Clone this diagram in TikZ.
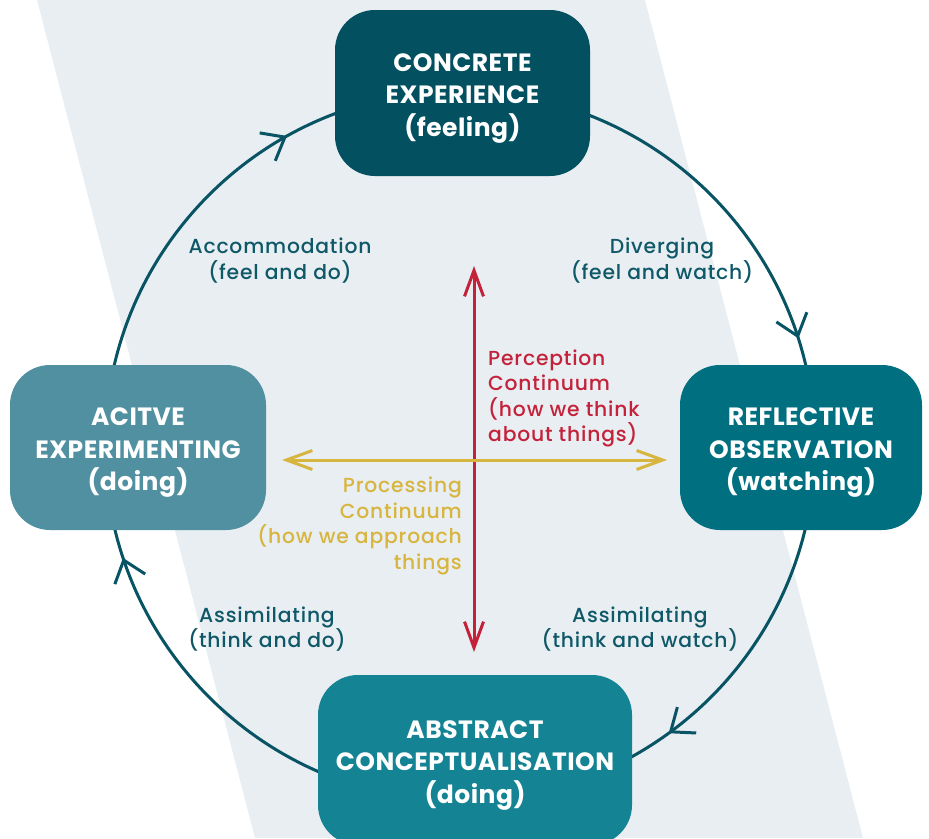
\documentclass[tikz,border=0pt]{standalone}
\usepackage{fontspec}
\setmainfont{Poppins}
\newfontfamily\stagefont{Poppins}[LetterSpace=2]
\newfontfamily\labelfont{Poppins Medium}[LetterSpace=4]
\usepackage{tikz}
\usetikzlibrary{arrows.meta,decorations.markings}
\usepackage{xcolor}
\definecolor{bgPanel}{RGB}{232,238,241}
\definecolor{cycleCol}{RGB}{8,84,100}
\definecolor{stageA}{RGB}{3,80,96}
\definecolor{stageB}{RGB}{0,112,128}
\definecolor{stageC}{RGB}{20,132,148}
\definecolor{stageD}{RGB}{80,144,160}
\definecolor{styleText}{RGB}{14,88,104}
\definecolor{percCol}{RGB}{196,33,58}
\definecolor{procCol}{RGB}{216,181,63}

\begin{document}
\begin{tikzpicture}[
  x=1pt, y=-1pt,
  stagebox/.style n args={3}{rounded corners=40pt, fill=#1, minimum width=#2, minimum height=#3,
    text=white, align=center, inner sep=0pt, font=\stagefont\fontsize{25}{32.5}\selectfont\bfseries,
    text height=86.5pt, text depth=0pt},
  stylelabel/.style={text=styleText, align=center, font=\labelfont\fontsize{20.3}{25.5}\selectfont},
  axislabel/.style={align=#1, inner sep=0pt, font=\labelfont\fontsize{20.3}{25.5}\selectfont},
  cyclebarb/.tip={Straight Barb[length=20pt, width=32pt]},
  axisbarb/.tip={Straight Barb[length=26pt, width=19pt]},
  axisline/.style={line width=3pt, color=#1, axisbarb-axisbarb},
  cycleline/.style={line width=3pt, color=cycleCol, postaction={decorate},
    decoration={markings,
      mark=at position 0.150 with {\arrow{cyclebarb}},
      mark=at position 0.449 with {\arrow{cyclebarb}},
      mark=at position 0.669 with {\arrow{cyclebarb}},
      mark=at position 0.951 with {\arrow{cyclebarb}}}},
]
\useasboundingbox (0,0) rectangle (929,838);
% slanted panel behind the cycle
\fill[bgPanel] (37,0) -- (645,0) -- (863,838) -- (255,838) -- cycle;
% learning cycle
\coordinate (cyc) at (460,446);
\draw[cycleline] (cyc) ellipse [x radius=355, y radius=355];
% the four stages
\node[stagebox={stageA}{255pt}{166pt}] (concrete) at (462.5,93) {CONCRETE\\EXPERIENCE\\(feeling)};
\node[stagebox={stageB}{242pt}{165pt}] (reflective) at (801,447.5) {REFLECTIVE\\OBSERVATION\\(watching)};
\node[stagebox={stageC}{314pt}{170pt}] (abstract) at (475,760) {ABSTRACT\\CONCEPTUALISATION\\(doing)};
\node[stagebox={stageD}{256pt}{165pt}] (active) at (138,447.5) {ACITVE\\EXPERIMENTING\\(doing)};
% learning styles
\node[stylelabel] (accom) at (280,260.5) {Accommodation\\(feel and do)};
\node[stylelabel] (diverg) at (662,260.5) {Diverging\\(feel and watch)};
\node[stylelabel] (assimA) at (267,629) {Assimilating\\(think and do)};
\node[stylelabel] (assimB) at (640,629) {Assimilating\\(think and watch)};
% perception continuum
\coordinate (percTop) at (474,266);
\coordinate (percBot) at (474,652);
\draw[axisline={percCol}] (percTop) -- (percBot);
\node[axislabel=left, text=percCol, anchor=west] (perc) at (488,398.5)
  {Perception\\Continuum\\(how we think\\about things)};
% processing continuum
\coordinate (procLeft) at (282,460);
\coordinate (procRight) at (667,460);
\draw[axisline={procCol}] (procLeft) -- (procRight);
\node[axislabel=right, text=procCol, anchor=east] (proc) at (462,526)
  {Processing\\Continuum\\(how we approach\\things};
\end{tikzpicture}
\end{document}
